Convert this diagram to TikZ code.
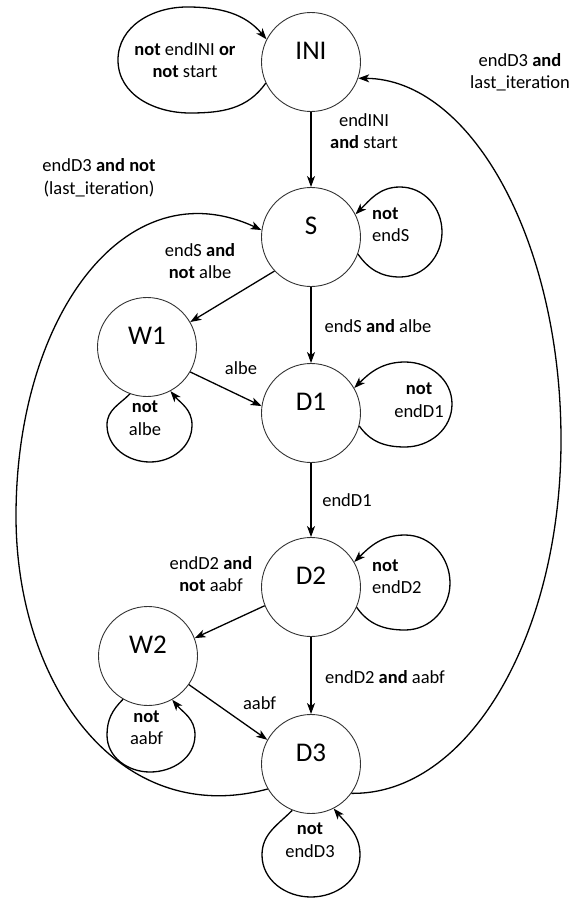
\documentclass[tikz,border=0pt]{standalone}
\usepackage{fontspec}
\setmainfont{Carlito}
\usetikzlibrary{arrows.meta}
\begin{document}
\begin{tikzpicture}[x=1pt,y=1pt,
  state/.style={circle,draw=black!80,line width=0.9pt,minimum size=99pt,inner sep=0pt,
    font=\fontsize{27}{30}\selectfont,text height=17.5pt,text depth=22pt},
  lbl/.style={font=\fontsize{18.5}{22.5}\selectfont,align=center,inner sep=0pt},
  lbll/.style={lbl,align=left,anchor=west},
  arr/.style={line width=1.3pt,-{Stealth[length=11pt,width=8pt,inset=3pt]}},
]
\useasboundingbox (0,0) rectangle (574,-899);
% states
\node[state] (INI) at (311,-62) {INI};
\node[state] (S) at (311,-237) {S};
\node[state] (W1) at (147,-347) {W1};
\node[state] (D1) at (311,-413) {D1};
\node[state] (D2) at (311,-587) {D2};
\node[state] (W2) at (148,-656) {W2};
\node[state] (D3) at (311,-764) {D3};
% straight transitions
\draw[arr] (INI) -- (S);
\draw[arr] (S) -- (D1);
\draw[arr] (D1) -- (D2);
\draw[arr] (D2) -- (D3);
\draw[arr] (S.223) -- (W1.30);
\draw[arr] (W1.-30) -- (D1.172);
\draw[arr] (D2.202) -- (W2.21);
\draw[arr] (W2.-35) -- (D3.151);
% self loops
\draw[arr] (INI.205) to[out=235,in=0] (190,-113) to[out=180,in=270] (118,-60)
  to[out=90,in=180] (187,-7) to[out=0,in=130] (INI.153);
\draw[arr] (S.-20) to[out=-55,in=180] (400,-277) to[out=0,in=270] (442,-232)
  to[out=90,in=0] (400,-187) to[out=180,in=45] (S.27);
\draw[arr] (D1.-15) to[out=-55,in=180] (405,-447) to[out=0,in=270] (452,-404)
  to[out=90,in=0] (405,-362) to[out=180,in=45] (D1.30);
\draw[arr] (D2.-24) to[out=-55,in=180] (405,-630) to[out=0,in=270] (450,-583)
  to[out=90,in=0] (405,-535) to[out=180,in=45] (D2.30);
\draw[arr] (W1.250) to[out=225,in=90] (107,-425) to[out=270,in=180] (150,-462)
  to[out=0,in=270] (192,-425) to[out=90,in=-50] (W1.298);
\draw[arr] (W2.240) to[out=225,in=90] (107,-735) to[out=270,in=180] (150,-772)
  to[out=0,in=270] (195,-735) to[out=90,in=-50] (W2.299);
\draw[arr] (D3.248) to[out=225,in=90] (262,-855) to[out=270,in=180] (311,-897)
  to[out=0,in=270] (360,-855) to[out=90,in=-50] (D3.297);
% long returns
\draw[arr] (D3.-36) .. controls (468,-795) and (561,-636) .. (561,-440)
  .. controls (561,-241) and (471,-79) .. (INI.-19);
\draw[arr] (D3.210) .. controls (120,-829) and (16,-686) .. (16,-516)
  .. controls (16,-316) and (126,-167) .. (S.172);
% labels
\node[lbl] (lINIself) at (185,-60) {\textbf{not} endINI \textbf{or}\\\textbf{not} start};
\node[lbl] (lINIS) at (364,-131) {endINI\\\textbf{and} start};
\node[lbl] (lD3S) at (99,-178) {endD3 \textbf{and not}\\(last\_iteration)};
\node[lbl] (lSW1) at (200,-261) {endS \textbf{and}\\\textbf{not} albe};
\node[lbll] (lSself) at (372,-224.5) {\textbf{not}\\endS};
\node[lbl] (lSD1) at (378,-326) {endS \textbf{and} albe};
\node[lbl] (lD1self) at (419,-400) {\textbf{not}\\endD1};
\node[lbl] (lW1D1) at (241,-368) {albe};
\node[lbl] (lW1self) at (145,-418) {\textbf{not}\\albe};
\node[lbl] (lD1D2) at (347,-500) {endD1};
\node[lbl] (lD2W2) at (211,-574) {endD2 \textbf{and}\\\textbf{not} aabf};
\node[lbll] (lD2self) at (372,-576.5) {\textbf{not}\\endD2};
\node[lbl] (lD2D3) at (385,-677) {endD2 \textbf{and} aabf};
\node[lbl] (lW2D3) at (259.5,-703) {aabf};
\node[lbl] (lW2self) at (146.5,-727.5) {\textbf{not}\\aabf};
\node[lbl] (lD3self) at (310,-840) {\textbf{not}\\endD3};
\node[lbl] (lD3INI) at (520,-72.5) {endD3 \textbf{and}\\last\_iteration};
\end{tikzpicture}
\end{document}
